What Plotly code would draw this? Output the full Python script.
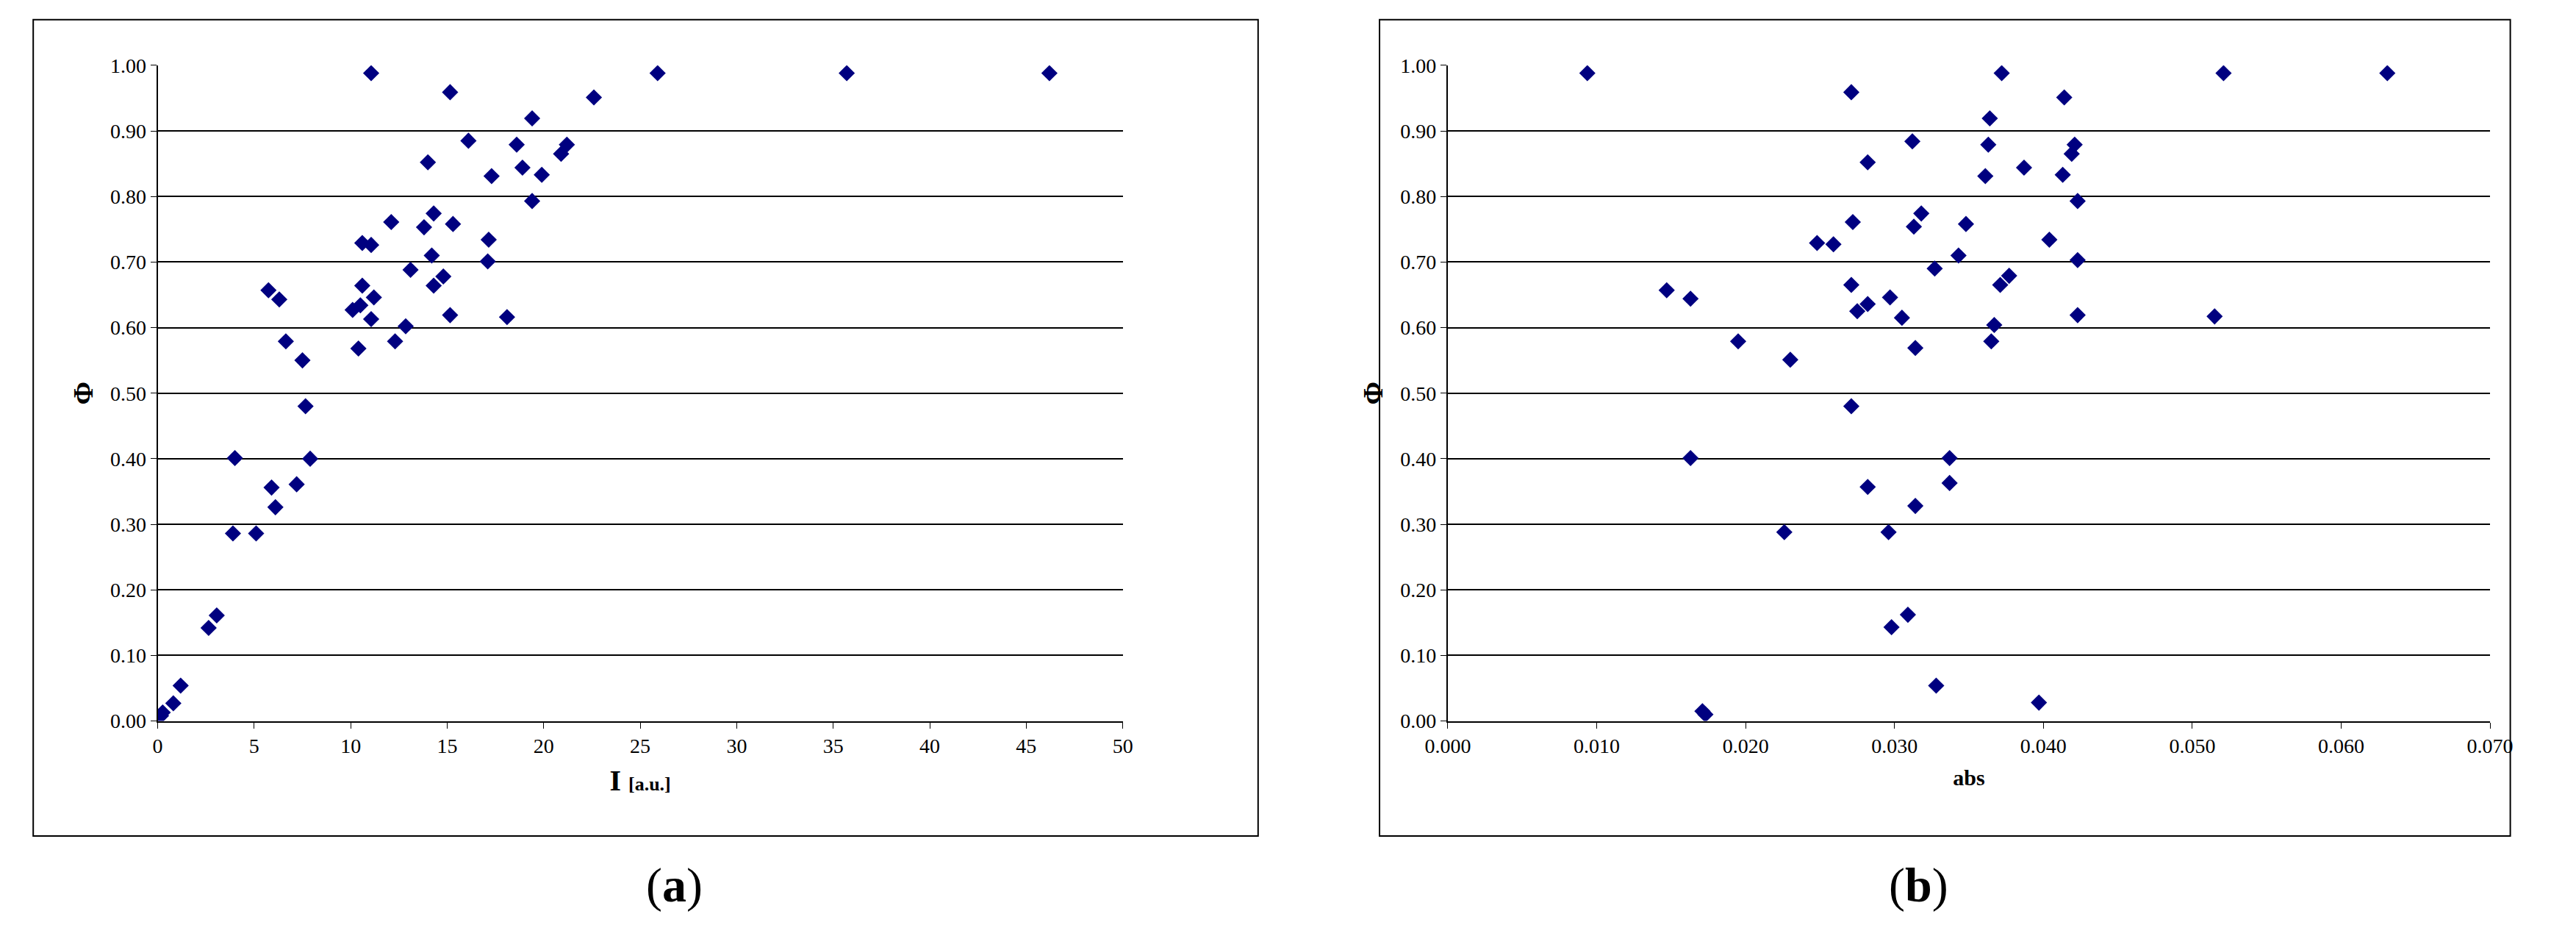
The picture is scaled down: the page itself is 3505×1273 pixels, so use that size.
import plotly.graph_objects as go

I_a = [11.06,15.15,25.9,35.7,46.2,22.6,19.4,16.1,18.6,21.2,20.9,14.0,18.9,17.3,19.9,19.4,14.3,12.1,15.3,13.8,10.6,11.06,17.15,14.2,17.1,13.1,14.8,10.6,14.3,5.74,6.3,11.2,10.1,10.5,11.06,15.15,18.1,12.85,6.64,12.3,10.4,7.5,7.66,4.0,7.9,5.9,7.2,6.1,3.9,5.1,3.06,2.64,1.19,0.81,0.26,0.17]
phi_a = [0.988,0.959,0.988,0.988,0.988,0.951,0.919,0.885,0.879,0.879,0.865,0.852,0.844,0.831,0.833,0.793,0.774,0.761,0.758,0.753,0.729,0.726,0.734,0.710,0.701,0.688,0.678,0.664,0.664,0.657,0.643,0.646,0.627,0.634,0.613,0.619,0.616,0.602,0.579,0.579,0.568,0.550,0.480,0.401,0.400,0.356,0.361,0.326,0.286,0.286,0.161,0.142,0.054,0.027,0.013,0.008]

abs_b = [0.00937,0.0271,0.0372,0.0521,0.0631,0.0414,0.0364,0.0312,0.0363,0.0421,0.0419,0.0282,0.0387,0.0361,0.0413,0.0423,0.0318,0.0272,0.0348,0.0313,0.0248,0.0259,0.0404,0.0343,0.0423,0.0327,0.0377,0.0271,0.0371,0.0147,0.0163,0.0297,0.0275,0.0282,0.0305,0.0423,0.0515,0.0367,0.0195,0.0365,0.0314,0.0230,0.0271,0.0163,0.0337,0.0282,0.0337,0.0314,0.0226,0.0296,0.0309,0.0298,0.0328,0.0397,0.0171,0.0173]
phi_b = [0.988,0.959,0.988,0.988,0.988,0.951,0.919,0.884,0.879,0.879,0.865,0.852,0.844,0.831,0.833,0.793,0.774,0.761,0.758,0.754,0.729,0.727,0.734,0.710,0.703,0.690,0.679,0.665,0.665,0.657,0.644,0.646,0.625,0.636,0.615,0.619,0.617,0.604,0.579,0.579,0.569,0.551,0.480,0.401,0.401,0.357,0.363,0.328,0.288,0.288,0.162,0.143,0.054,0.028,0.015,0.010]

FONT = "Liberation Serif"
mk = dict(symbol="diamond", size=17, color="#000080")

fig = go.Figure()
fig.add_trace(go.Scatter(x=I_a, y=phi_a, mode="markers", marker=mk, xaxis="x", yaxis="y", showlegend=False))
fig.add_trace(go.Scatter(x=abs_b, y=phi_b, mode="markers", marker=mk, xaxis="x2", yaxis="y2", showlegend=False))

tickf = dict(family=FONT, size=28, color="black")
ycommon = dict(range=[0, 1.0], tickvals=[i/10 for i in range(11)], tickformat=".2f",
               showgrid=True, gridcolor="black", gridwidth=2, zeroline=False,
               showline=True, linecolor="black", linewidth=2, ticks="outside", ticklen=8,
               tickcolor="black", tickfont=tickf,
               title=dict(text="<b>Φ</b>", font=dict(family=FONT, size=38, color="black"), standoff=12))
xcommon = dict(showgrid=False, zeroline=False, showline=True, linecolor="black", linewidth=2,
               ticks="outside", ticklen=8, tickcolor="black", tickfont=tickf)

fig.update_layout(
    width=3505, height=1273, margin=dict(l=0, r=0, t=0, b=0),
    paper_bgcolor="white", plot_bgcolor="white",
    xaxis=dict(domain=[0.051, 0.4325], range=[0, 50], tickvals=list(range(0, 51, 5)), anchor="y",
               title=dict(text="<b>I <span style='font-size:26px'>[a.u.]</span></b>", font=dict(family=FONT, size=40, color="black"), standoff=18),
               **xcommon),
    yaxis=dict(domain=[0.229, 0.947], anchor="x", **ycommon),
    xaxis2=dict(domain=[0.561, 0.973], range=[0, 0.07], tickvals=[i/100 for i in range(8)], tickformat=".3f", anchor="y2",
                title=dict(text="<b>abs</b>", font=dict(family=FONT, size=30, color="black"), standoff=18),
                **xcommon),
    yaxis2=dict(domain=[0.229, 0.947], anchor="x2", **ycommon),
    shapes=[
        dict(type="rect", xref="paper", yref="paper", x0=0.0018, x1=0.486, y0=0.103, y1=0.997, line=dict(color="black", width=2)),
        dict(type="rect", xref="paper", yref="paper", x0=0.534, x1=0.981, y0=0.103, y1=0.997, line=dict(color="black", width=2)),
    ],
    annotations=[
        dict(text="(<b>a</b>)", x=0.2435, y=0.018, xref="paper", yref="paper", showarrow=False, font=dict(family=FONT, size=66, color="black")),
        dict(text="(<b>b</b>)", x=0.7595, y=0.018, xref="paper", yref="paper", showarrow=False, font=dict(family=FONT, size=66, color="black")),
    ],
)
fig.write_html("out.html")
